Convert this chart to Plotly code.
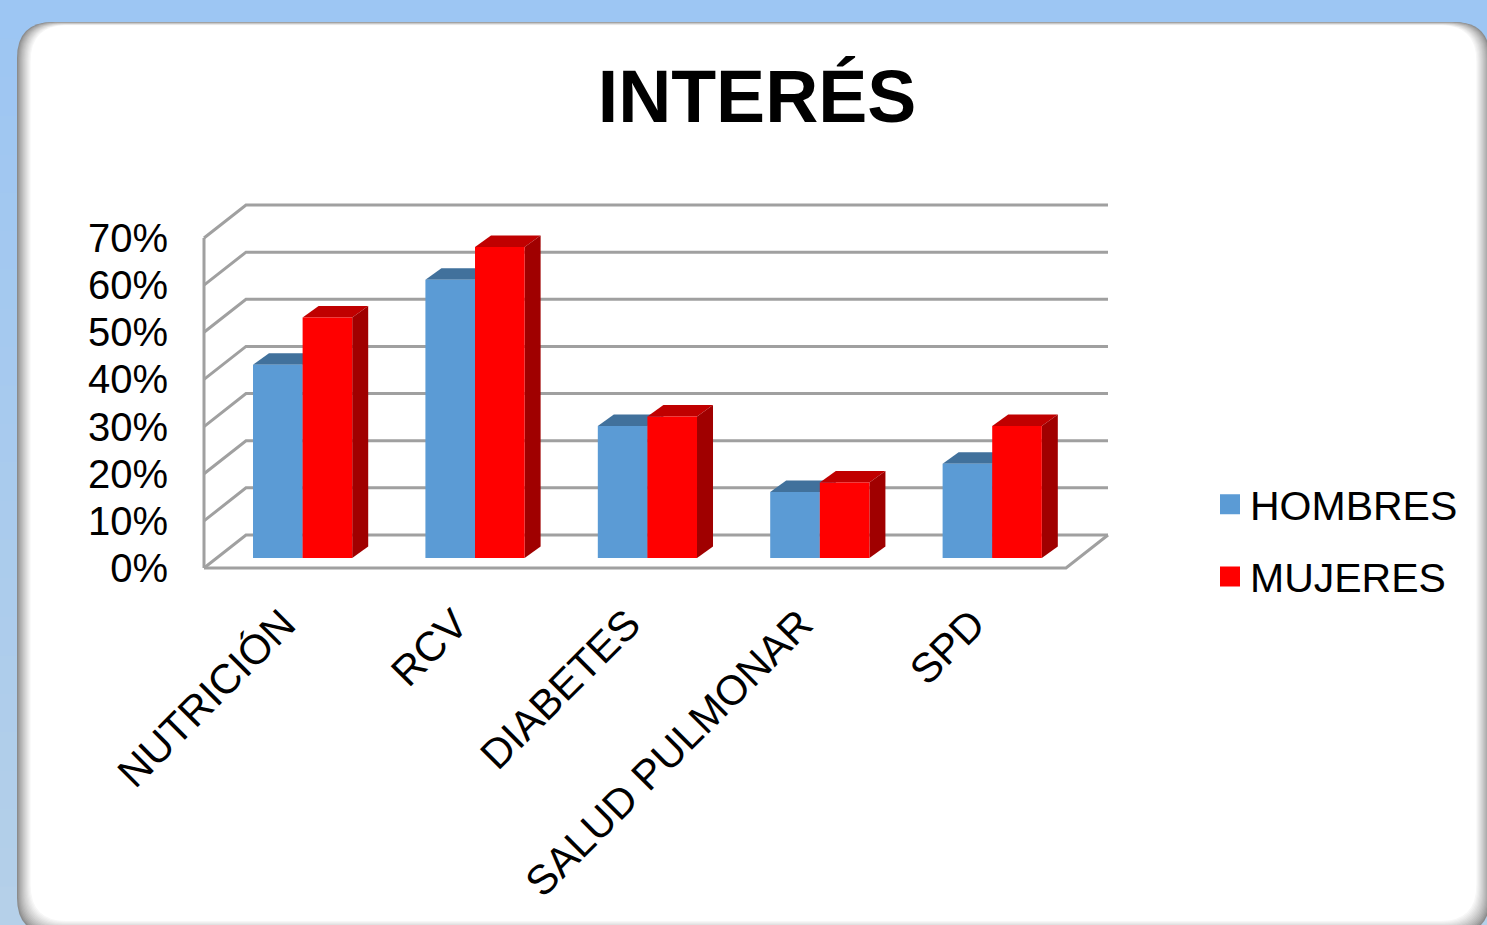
import plotly.graph_objects as go

categories = ["NUTRICIÓN", "RCV", "DIABETES", "SALUD PULMONAR", "SPD"]
hombres = [41, 59, 28, 14, 20]
mujeres = [51, 66, 30, 16, 28]
y_ticks = [0, 10, 20, 30, 40, 50, 60, 70]
y_labels = ["0%", "10%", "20%", "30%", "40%", "50%", "60%", "70%"]
series_names = ["HOMBRES", "MUJERES"]

W, H = 1487, 925
FONT = "Liberation Sans, Arial, sans-serif"
PX_X = 172.4          # px per category
PX_Y = 4.714          # px per percent
PAD = 4               # px of room round the floor and back wall so their lines are not clipped
wall_dx, wall_dy = 42 / PX_X, 33 / PX_Y
bar_w = 49.6 / PX_X
bar_off = 0.572
base = 10 / PX_Y
side_dx, side_dy = 16 / PX_X, 11.5 / PX_Y
GRID = "#a0a0a0"


def px_x(v):
    return v / W


def px_y(v):
    return 1 - v / H


def round_rect(x0, y0, x1, y1, r):
    a, b, c, d = px_x(x0), px_x(x1), px_y(y0), px_y(y1)
    ax, ay = r / W, r / H
    return (f"M {a + ax} {c} L {b - ax} {c} Q {b} {c} {b} {c - ay} L {b} {d + ay} "
            f"Q {b} {d} {b - ax} {d} L {a + ax} {d} Q {a} {d} {a} {d + ay} "
            f"L {a} {c - ay} Q {a} {c} {a + ax} {c} Z")


shapes = []
# page background, soft vertical gradient
strips = 24
for i in range(strips):
    t = i / (strips - 1)
    col = f"rgb({int(157 + 24 * t)},{int(198 + 10 * t)},{int(243 - 10 * t)})"
    shapes.append(dict(type="rect", xref="paper", yref="paper", layer="below",
                       x0=0, x1=1, y0=px_y(H * (i + 1) / strips + 1), y1=px_y(H * i / strips),
                       fillcolor=col, line_width=0))
# card with an inner shadow
layers = 14
for i in range(layers):
    t = i / (layers - 1)
    g = int(140 + 115 * t ** 0.8)
    shapes.append(dict(type="path", xref="paper", yref="paper", layer="below",
                       path=round_rect(17 + i * 1.05, 22 + i * 0.25, 1490 - i * 1.05, 934 - i * 1.0, 36),
                       fillcolor=f"rgb({g},{g},{g})", line_width=0))

fig = go.Figure()


def line(xs, ys):
    fig.add_trace(go.Scatter(x=xs, y=ys, mode="lines", showlegend=False, hoverinfo="skip",
                             line=dict(color=GRID, width=3), xaxis="x", yaxis="y"))


n = len(categories)
for k in y_ticks:
    line([0, wall_dx, n + wall_dx], [k, k + wall_dy, k + wall_dy])
line([0, 0], [y_ticks[0], y_ticks[-1]])
line([0, n, n + wall_dx], [0, 0, wall_dy])


def faces(left, value, top_col, side_col):
    r = left + bar_w
    t = value + base
    fig.add_trace(go.Scatter(x=[left, r, r + side_dx, left + side_dx, left],
                             y=[t, t, t + side_dy, t + side_dy, t], fill="toself", fillcolor=top_col,
                             mode="lines", line=dict(width=0, color=top_col), showlegend=False, hoverinfo="skip"))
    fig.add_trace(go.Scatter(x=[r, r + side_dx, r + side_dx, r, r],
                             y=[base, base + side_dy, t + side_dy, t, base], fill="toself", fillcolor=side_col,
                             mode="lines", line=dict(width=0, color=side_col), showlegend=False, hoverinfo="skip"))


centres = [i + bar_off for i in range(n)]
for c, h, m in zip(centres, hombres, mujeres):
    faces(c - bar_w, h, "#41719c", "#34608a")
    faces(c, m, "#c00000", "#a00000")

fig.add_trace(go.Bar(x=centres, y=hombres, base=[base] * n, name=series_names[0], marker=dict(color="#5b9bd5", line_width=0),
                     xaxis="x2", yaxis="y2", showlegend=False))
fig.add_trace(go.Bar(x=centres, y=mujeres, base=[base] * n, name=series_names[1], marker=dict(color="#ff0000", line_width=0),
                     xaxis="x2", yaxis="y2", showlegend=False))

for name, col in zip(series_names, ["#5b9bd5", "#ff0000"]):
    fig.add_trace(go.Scatter(x=[None], y=[None], mode="markers", name=name, legendgroup=name,
                             marker=dict(symbol="square", size=16, color=col, line=dict(color=col, width=4))))

x_range = [-PAD / PX_X, (1108 + PAD - 204) / PX_X]
y_range = [-PAD / PX_Y, (568 - 205 + PAD) / PX_Y]
domain_x = [px_x(204 - PAD), px_x(1108 + PAD)]
domain_y = [px_y(568 + PAD), px_y(205 - PAD)]

fig.update_layout(
    width=W, height=H, margin=dict(l=0, r=0, t=0, b=0, pad=0, autoexpand=False), autosize=False,
    paper_bgcolor="#a5c9f0", plot_bgcolor="rgba(0,0,0,0)",
    barmode="group", bargap=1 - 2 * bar_w, bargroupgap=0,
    shapes=shapes,
    font=dict(family=FONT, size=40, color="#000000"),
    title=dict(text="<b>INTERÉS</b>", font=dict(family=FONT, size=73.5, color="#000000"),
               x=757 / W, xanchor="center", y=1 - 96 / H, yanchor="middle", xref="paper", yref="container"),
    xaxis=dict(domain=domain_x, range=x_range, tickmode="array", automargin=False,
               tickvals=[i + 0.46 for i in range(n)], ticktext=categories, tickangle=-45,
               showgrid=False, zeroline=False, showline=False, ticks="outside", ticklen=14 - PAD,
               tickcolor="rgba(0,0,0,0)", tickfont=dict(size=41.5, family=FONT)),
    yaxis=dict(domain=domain_y, range=y_range, tickmode="array", tickvals=y_ticks, ticktext=y_labels, automargin=False,
               showgrid=False, zeroline=False, showline=False, ticks="outside", ticklen=27 - PAD,
               tickcolor="rgba(0,0,0,0)", tickfont=dict(size=40, family=FONT)),
    xaxis2=dict(domain=domain_x, range=x_range, overlaying="x", visible=False, matches="x"),
    yaxis2=dict(domain=domain_y, range=y_range, overlaying="y", visible=False, matches="y"),
    legend=dict(x=px_x(1210), y=px_y(471), xanchor="left", yanchor="top", bgcolor="rgba(0,0,0,0)",
                font=dict(size=41, family=FONT), tracegroupgap=16, itemwidth=30, traceorder="grouped"),
)

fig.write_html("out.html", config=dict(displayModeBar=False),
               post_script="document.body.style.margin='0';document.documentElement.style.overflow='hidden';")
